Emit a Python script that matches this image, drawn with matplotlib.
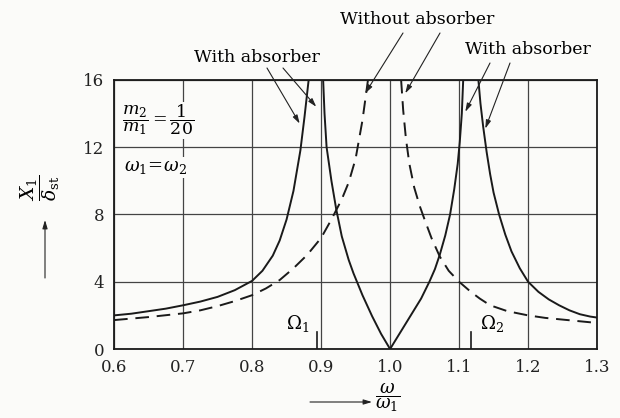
import matplotlib
matplotlib.use('Agg')
import matplotlib.pyplot as plt

plt.rcParams['font.family'] = ['DejaVu Serif']
plt.rcParams['mathtext.fontset'] = 'dejavuserif'

# frequency ratio w/w1 and amplitude ratio X1/d_st

# without absorber (dashed), two branches around w/w1 = 1
free_r_lo = [0.60, 0.65, 0.70, 0.725, 0.75, 0.775, 0.80, 0.82, 0.84, 0.86, 0.88, 0.90,
             0.915, 0.93, 0.94, 0.95, 0.96, 0.968]
free_x_lo = [1.72, 1.90, 2.12, 2.30, 2.55, 2.85, 3.20, 3.60, 4.10, 4.80, 5.60, 6.60,
             7.70, 8.90, 9.90, 11.3, 13.6, 16.0]
free_r_hi = [1.016, 1.019, 1.023, 1.028, 1.035, 1.043, 1.05, 1.06, 1.072, 1.085, 1.10,
             1.117, 1.13, 1.145, 1.17, 1.20, 1.225, 1.25, 1.275, 1.30]
free_x_hi = [16.0, 14.2, 12.5, 11.0, 9.60, 8.50, 7.70, 6.60, 5.50, 4.65, 4.00,
             3.40, 3.00, 2.60, 2.25, 2.00, 1.85, 1.75, 1.65, 1.55]

# with absorber (solid), three branches
abs_r_1 = [0.60, 0.625, 0.65, 0.675, 0.70, 0.725, 0.75, 0.775, 0.80, 0.815, 0.83, 0.84,
           0.85, 0.86, 0.87, 0.876, 0.882]
abs_x_1 = [2.00, 2.10, 2.25, 2.40, 2.60, 2.82, 3.10, 3.50, 4.05, 4.65, 5.55, 6.45,
           7.70, 9.40, 11.8, 13.8, 16.0]
abs_r_2 = [0.903, 0.905, 0.908, 0.915, 0.922, 0.93, 0.94, 0.947, 0.96, 0.974, 0.987, 1.0,
           1.015, 1.03, 1.045, 1.057, 1.065, 1.072, 1.08, 1.087, 1.093, 1.098, 1.101,
           1.104, 1.106]
abs_x_2 = [16.0, 14.0, 12.0, 10.0, 8.30, 6.70, 5.30, 4.50, 3.20, 1.95, 0.90, 0.0,
           1.00, 2.00, 3.00, 4.00, 4.75, 5.60, 6.75, 8.00, 9.50, 11.0, 12.3,
           14.0, 16.0]
abs_r_3 = [1.128, 1.131, 1.135, 1.14, 1.145, 1.15, 1.158, 1.167, 1.176, 1.188, 1.20,
           1.215, 1.23, 1.245, 1.26, 1.275, 1.29, 1.30]
abs_x_3 = [16.0, 14.6, 13.2, 11.7, 10.4, 9.30, 8.00, 6.80, 5.80, 4.80, 4.00,
           3.40, 2.95, 2.60, 2.30, 2.07, 1.93, 1.87]

# natural frequencies of the combined system
omega_r = [0.894, 1.118]
omega_lbl = [r'$\Omega_1$', r'$\Omega_2$']

x_ticks = [0.6, 0.7, 0.8, 0.9, 1.0, 1.1, 1.2, 1.3]
x_tick_lbl = ['0.6', '0.7', '0.8', '0.9', '1.0', '1.1', '1.2', '1.3']
y_ticks = [0, 4, 8, 12, 16]

fig = plt.figure(figsize=(6.2, 4.18), dpi=100)
fig.patch.set_facecolor('#fbfbf9')
ax = fig.add_axes([0.184, 0.165, 0.779, 0.644])
ax.set_facecolor('#fbfbf9')

ln = dict(color='#1a1a1a', lw=1.4, clip_on=True)
ax.plot(free_r_lo, free_x_lo, ls=(0, (7, 4)), **ln)
ax.plot(free_r_hi, free_x_hi, ls=(0, (7, 4)), **ln)
ax.plot(abs_r_1, abs_x_1, **ln)
ax.plot(abs_r_2, abs_x_2, **ln)
ax.plot(abs_r_3, abs_x_3, **ln)

for r, lbl, dx in zip(omega_r, omega_lbl, [-0.028, 0.03]):
    ax.plot([r, r], [0, 1.0], color='#1a1a1a', lw=1.2)
    ax.text(r + dx, 1.5, lbl, ha='center', va='center', fontsize=13)

ax.set_xlim(0.6, 1.3)
ax.set_ylim(0, 16)
ax.set_xticks(x_ticks)
ax.set_xticklabels(x_tick_lbl)
ax.set_yticks(y_ticks)
ax.tick_params(length=0, pad=7, labelsize=12, colors='#222222')
ax.grid(True, color='#444444', lw=0.9)
ax.set_axisbelow(True)
for s in ax.spines.values():
    s.set_color('#1a1a1a')
    s.set_linewidth(1.3)

box = dict(facecolor='#fbfbf9', edgecolor='none', pad=1)
ax.text(0.611, 13.6, r'$\dfrac{m_2}{m_1}=\dfrac{1}{20}$', fontsize=12.5,
        ha='left', va='center', bbox=box)
ax.text(0.615, 10.8, r'$\omega_1\!=\!\omega_2$', fontsize=13,
        ha='left', va='center', bbox=box)

# labels with arrows above the plot
fig.text(257 / 620, 1 - 57 / 418, 'With absorber', ha='center', va='center', fontsize=12.5)
fig.text(417 / 620, 1 - 20 / 418, 'Without absorber', ha='center', va='center', fontsize=12.5)
fig.text(528 / 620, 1 - 50 / 418, 'With absorber', ha='center', va='center', fontsize=12.5)

arr = dict(arrowstyle='-|>,head_length=0.5,head_width=0.15', color='#222222', lw=0.8,
           shrinkA=0, shrinkB=0)
pointers = [((0.869, 13.4), (267, 68)), ((0.893, 14.4), (283, 68)),
            ((0.964, 15.2), (403, 33)), ((1.022, 15.2), (440, 33)),
            ((1.109, 14.1), (490, 63)), ((1.138, 13.1), (510, 63))]
for tip, start in pointers:
    ax.annotate('', xy=tip, xycoords='data', xytext=(start[0], 418 - start[1]),
                textcoords='figure pixels', arrowprops=arr, annotation_clip=False)

# axis titles with direction arrows
fig.text(40 / 620, 1 - 188 / 418, r'$\dfrac{X_1}{\delta_{\rm st}}$', rotation=90,
         ha='center', va='center', fontsize=13.5)
ax.annotate('', xy=(45, 418 - 220), xycoords='figure pixels',
            xytext=(45, 418 - 278), textcoords='figure pixels', arrowprops=arr)
fig.text(388 / 620, 1 - 398 / 418, r'$\dfrac{\omega}{\omega_1}$',
         ha='center', va='center', fontsize=13)
ax.annotate('', xy=(372, 418 - 402), xycoords='figure pixels',
            xytext=(310, 418 - 402), textcoords='figure pixels', arrowprops=arr)

fig.savefig('out.png', dpi=100)
